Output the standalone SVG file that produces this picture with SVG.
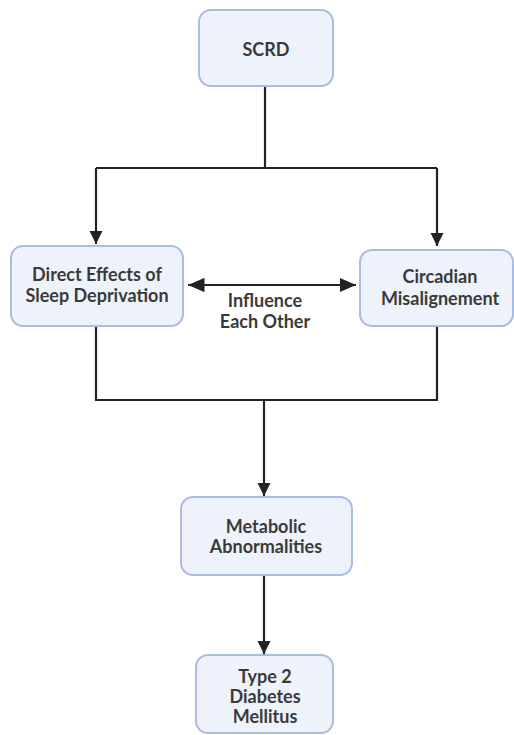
<svg xmlns="http://www.w3.org/2000/svg" width="514" height="735" viewBox="0 0 514 735">
<defs>
<style>
.box{fill:#eef3fb;stroke:#a9bde2;stroke-width:2}
.t{font-family:Lato,"Liberation Sans",sans-serif;font-size:18px;font-weight:700;fill:#3a3a3a;text-anchor:middle}
.c{fill:none;stroke:#222;stroke-width:2.2}
</style>
<marker id="ah" viewBox="0 0 10 10" refX="10" refY="5" markerWidth="6" markerHeight="6" orient="auto-start-reverse" markerUnits="strokeWidth">
<path d="M0,0 L10,5 L0,10 z" fill="#222"/>
</marker>
<marker id="ah2" viewBox="0 0 10 10" refX="10" refY="5" markerWidth="7.5" markerHeight="6.5" orient="auto-start-reverse" markerUnits="strokeWidth" preserveAspectRatio="none">
<path d="M0,0 L10,5 L0,10 z" fill="#222"/>
</marker>
</defs>
<rect width="514" height="735" fill="#fff"/>
<g id="connectors">
<path class="c" d="M265,87 V168 M96,168 H437"/>
<path class="c" d="M96,168 V244" marker-end="url(#ah)"/>
<path class="c" d="M437,168 V246" marker-end="url(#ah)"/>
<path class="c" d="M188,285 H356" marker-start="url(#ah2)" marker-end="url(#ah2)"/>
<path class="c" d="M96,326 V400 H437 V326"/>
<path class="c" d="M264,400 V496" marker-end="url(#ah)"/>
<path class="c" d="M264,575 V654" marker-end="url(#ah)"/>
<text class="t" x="265" y="307">Influence</text>
<text class="t" x="265" y="328">Each Other</text>
</g>
<g id="scrd">
<rect class="box" x="199" y="10" width="134" height="76" rx="12"/>
<text class="t" x="266" y="56">SCRD</text>
</g>
<g id="direct">
<rect class="box" x="11" y="246" width="172" height="80" rx="12"/>
<text class="t" x="97" y="281">Direct Effects of</text>
<text class="t" x="97" y="302">Sleep Deprivation</text>
</g>
<g id="circadian">
<rect class="box" x="360" y="250" width="153" height="76" rx="12"/>
<text class="t" x="440" y="283">Circadian</text>
<text class="t" x="440" y="305">Misalignement</text>
</g>
<g id="metabolic">
<rect class="box" x="181" y="497" width="171" height="78" rx="12"/>
<text class="t" x="266" y="533">Metabolic</text>
<text class="t" x="266" y="553">Abnormalities</text>
</g>
<g id="t2dm">
<rect class="box" x="196" y="655" width="137" height="78" rx="12"/>
<text class="t" x="265" y="683">Type 2</text>
<text class="t" x="265" y="703">Diabetes</text>
<text class="t" x="265" y="723">Mellitus</text>
</g>
</svg>
